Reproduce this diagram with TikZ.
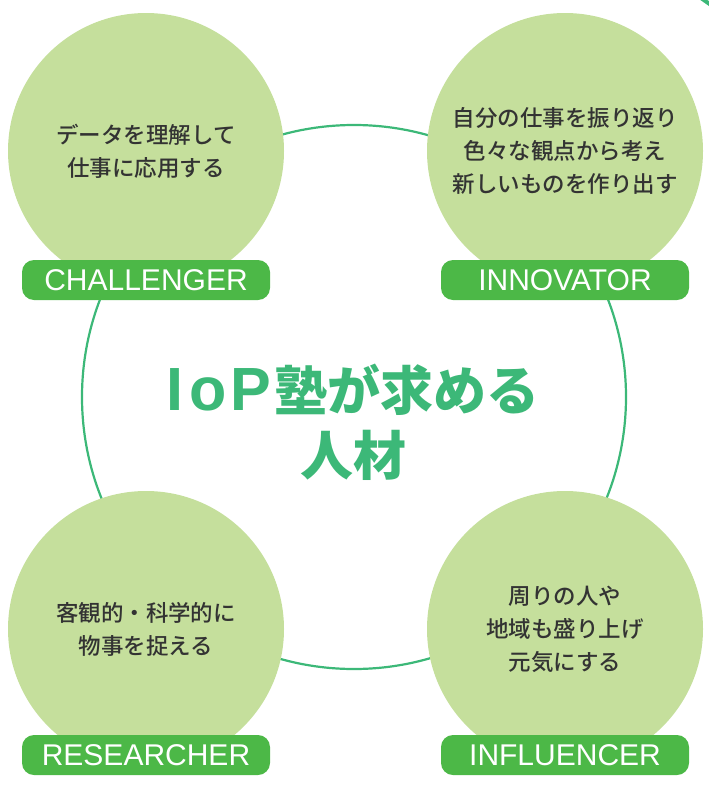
\documentclass[tikz,border=0pt]{standalone}
\usepackage{fontspec}
\newfontfamily\jp{Noto Sans CJK JP Medium}
\newfontfamily\jpheavy{Noto Sans CJK JP Black}
\newfontfamily\labelfont{Liberation Sans}
\definecolor{ringgreen}{HTML}{3CB878}
\definecolor{pillgreen}{HTML}{4CB847}
\definecolor{leafgreen}{HTML}{C5DF9C}
\definecolor{bodygray}{HTML}{333333}

\begin{document}
\begin{tikzpicture}[x=1pt,y=-1pt,
    bubble/.style={circle, fill=leafgreen, minimum size=276pt, inner sep=0pt,
      align=center, text=bodygray, font=\jp\fontsize{22.5}{33}\selectfont},
    pill/.style={rounded corners=12pt, fill=pillgreen, minimum width=248pt,
      minimum height=40pt, inner sep=0pt, text=white,
      font=\labelfont\fontsize{30}{30}\selectfont}]
    % Parameters
    \def\leftX{146}
    \def\rightX{565}
    \def\topY{151}
    \def\bottomY{629}
    \useasboundingbox (0,0) rectangle (709,787);

    % Ring
    \node (ring) [circle, draw=ringgreen, line width=2.2pt, minimum size=544pt,
      inner sep=0pt] at (354,397) {};

    % Corner mark
    \draw[ringgreen, line width=4pt] (701,-2) -- (711,5);

    % Circles
    \node (challenge) [bubble] at (\leftX,\topY) {データを理解して\\仕事に応用する};
    \node (innovate) [bubble] at (\rightX,\topY) {自分の仕事を振り返り\\色々な観点から考え\\新しいものを作り出す};
    \node (research) [bubble] at (\leftX,\bottomY) {客観的・科学的に\\物事を捉える};
    \node (influence) [bubble] at (\rightX,\bottomY) {周りの人や\\地域も盛り上げ\\元気にする};

    % Labels
    \node (challengeTag) [pill] at (\leftX,280) {CHALLENGER};
    \node (innovateTag) [pill] at (\rightX,280) {INNOVATOR};
    \node (researchTag) [pill] at (\leftX,755) {RESEARCHER};
    \node (influenceTag) [pill] at (\rightX,755) {INFLUENCER};

    % Title
    \node (title) [align=center, text=ringgreen,
      font=\jpheavy\fontsize{53}{65}\selectfont] at (353,422)
      {{\labelfont\bfseries\fontsize{61}{65}\selectfont I\kern6pt o\kern4pt P}\kern3pt 塾が求める\\人材};
\end{tikzpicture}
\end{document}
